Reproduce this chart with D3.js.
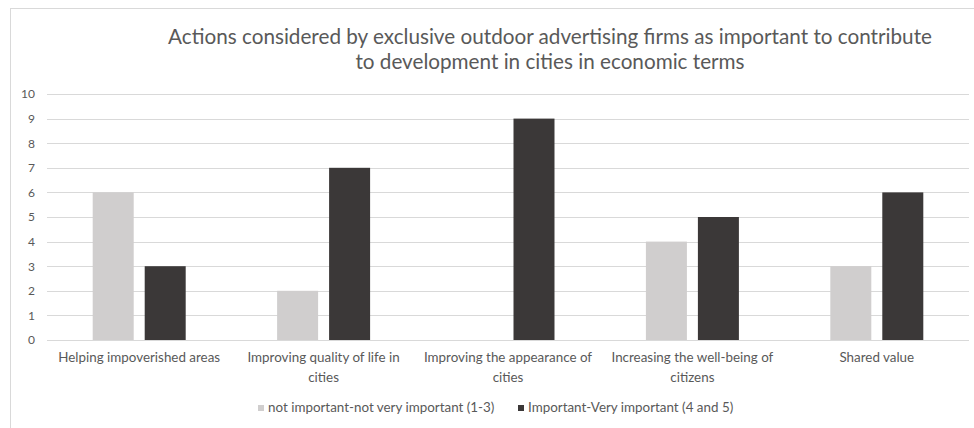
<!DOCTYPE html>
<html>
<head>
<meta charset="utf-8">
<script src="https://cdn.jsdelivr.net/npm/d3@7"></script>
<style>
  html, body { margin: 0; padding: 0; background: #fff; }
  svg { display: block; font-family: Lato, "Open Sans", sans-serif; }
</style>
</head>
<body>
<svg id="chart" width="974" height="428"></svg>
<script>
// Survey answers per action, counted by firm
const categories = [
  ["Helping impoverished areas"],
  ["Improving quality of life in", "cities"],
  ["Improving the appearance of", "cities"],
  ["Increasing the well-being of", "citizens"],
  ["Shared value"]
];
const seriesNames = ["not important-not very important (1-3)", "Important-Very important (4 and 5)"];
const notImportant = [6, 2, 0, 4, 3];
const important = [3, 7, 9, 5, 6];
const yTicks = [0, 1, 2, 3, 4, 5, 6, 7, 8, 9, 10];
const titleLines = [
  "Actions considered by exclusive outdoor advertising firms as important to contribute",
  "to development in cities in economic terms"
];

const colors = ["#d0cece", "#3b3838"];
const textColor = "#595959";

const svg = d3.select("#chart");

// outer frame of the chart area
svg.append("rect")
  .attr("x", 10.5).attr("y", 8.5)
  .attr("width", 1000).attr("height", 500)
  .attr("fill", "#fff").attr("stroke", "#d9d9d9").attr("stroke-width", 1);

const plot = { left: 47, right: 969, top: 94, bottom: 340 };

const x0 = d3.scaleBand()
  .domain(d3.range(categories.length))
  .range([plot.left, plot.right])
  .paddingInner(0.4957)
  .paddingOuter(0.4957 / 2);

const x1 = d3.scaleBand()
  .domain([0, 1])
  .range([0, x0.bandwidth()])
  .paddingInner(0.2115)
  .paddingOuter(0);

const y = d3.scaleLinear().domain([0, 10]).range([plot.bottom, plot.top]);

// gridlines
svg.append("g")
  .selectAll("line")
  .data(yTicks)
  .join("line")
  .attr("x1", plot.left).attr("x2", plot.right)
  .attr("y1", d => Math.round(y(d)) + 0.5)
  .attr("y2", d => Math.round(y(d)) + 0.5)
  .attr("stroke", "#d9d9d9").attr("stroke-width", 1);

// y axis labels
const yAxis = d3.axisLeft(y).tickValues(yTicks).tickSize(0).tickPadding(0);
const gy = svg.append("g").attr("transform", `translate(35,0)`).call(yAxis);
gy.select(".domain").remove();
gy.selectAll("text")
  .attr("fill", textColor)
  .style("font-size", "12px")
  .style("font-family", "Lato, 'Open Sans', sans-serif");

// bars
const values = [notImportant, important];
const groups = svg.append("g")
  .selectAll("g")
  .data(categories.map((c, i) => i))
  .join("g")
  .attr("transform", i => `translate(${x0(i)},0)`);

groups.selectAll("rect")
  .data(i => values.map((s, k) => ({ k, v: s[i] })))
  .join("rect")
  .attr("x", d => x1(d.k))
  .attr("width", x1.bandwidth())
  .attr("y", d => y(d.v))
  .attr("height", d => y(0) - y(d.v))
  .attr("fill", d => colors[d.k]);

// category labels
const xl = svg.append("g");
categories.forEach((lines, i) => {
  const cx = x0(i) + x0.bandwidth() / 2;
  const t = xl.append("text")
    .attr("x", cx)
    .attr("y", 362)
    .attr("text-anchor", "middle")
    .attr("fill", textColor)
    .style("font-size", "13.4px");
  lines.forEach((ln, j) => {
    t.append("tspan")
      .attr("x", cx)
      .attr("dy", j === 0 ? 0 : 20)
      .text(ln);
  });
});

// title
const title = svg.append("text")
  .attr("text-anchor", "middle")
  .attr("fill", textColor)
  .style("font-size", "20.7px");
titleLines.forEach((ln, j) => {
  title.append("tspan")
    .attr("x", 550)
    .attr("y", 43.5 + j * 25)
    .text(ln);
});

// legend
const legend = svg.append("g").attr("transform", "translate(0,412)");
const legendX = [258, 518];
seriesNames.forEach((name, k) => {
  legend.append("rect")
    .attr("x", legendX[k]).attr("y", -7)
    .attr("width", 6).attr("height", 6)
    .attr("fill", colors[k]);
  legend.append("text")
    .attr("x", legendX[k] + 10).attr("y", 0)
    .attr("fill", textColor)
    .style("font-size", "13.4px")
    .text(name);
});
</script>
</body>
</html>
